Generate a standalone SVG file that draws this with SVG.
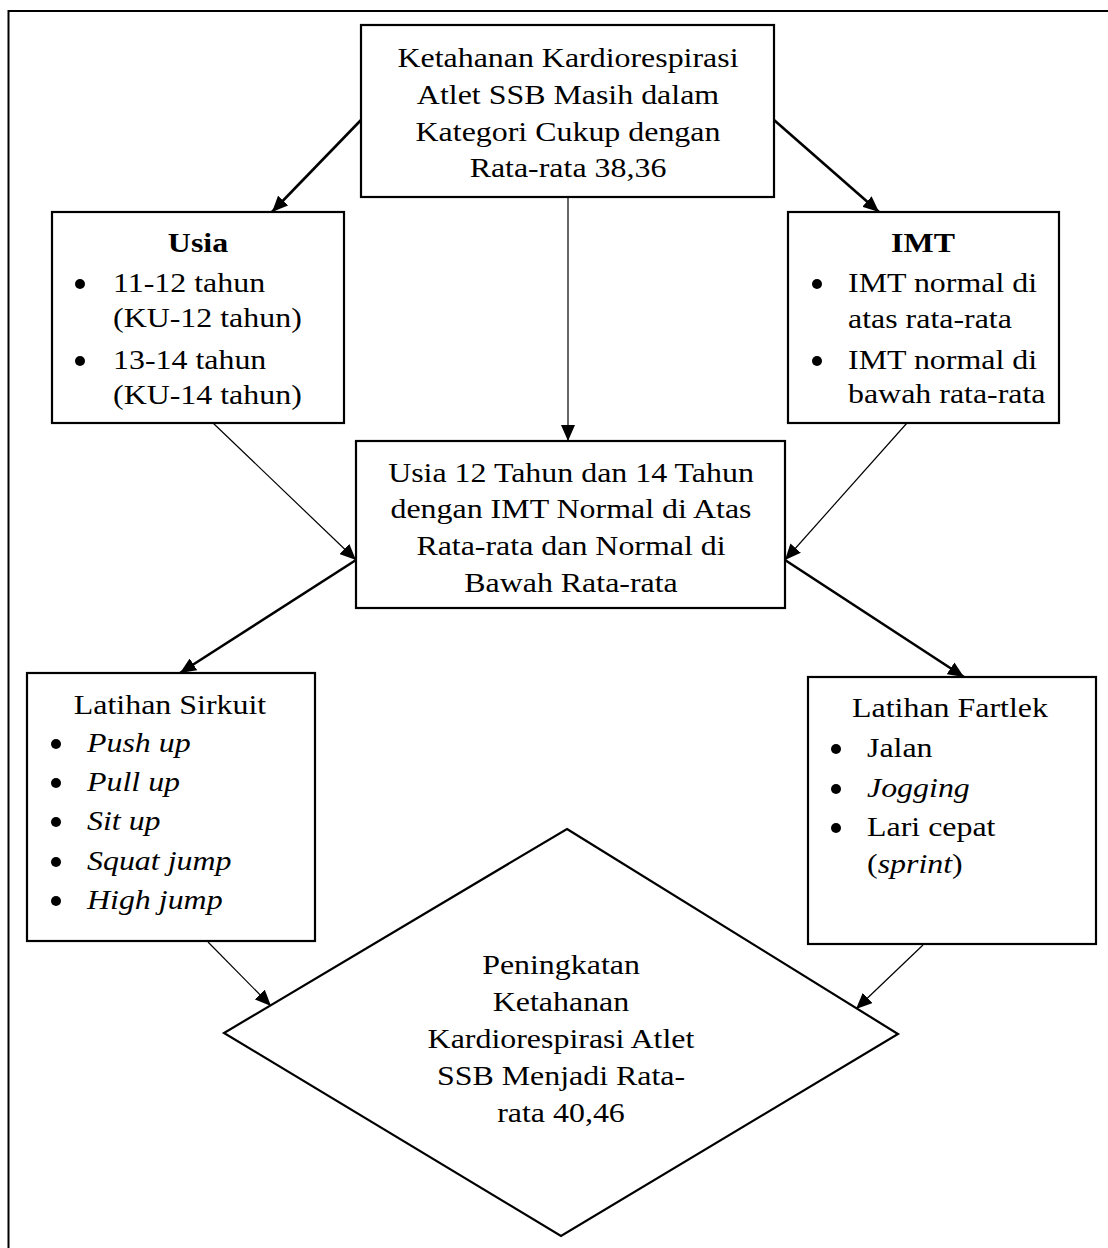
<svg xmlns="http://www.w3.org/2000/svg" width="1108" height="1248" viewBox="0 0 1108 1248">
<style>
.t{font-family:"Liberation Serif","Times New Roman",serif;font-size:28px;fill:#000}
.c{text-anchor:middle}
.b{font-weight:bold}
.i{font-style:italic}
.box{fill:#fff;stroke:#000;stroke-width:2.2}
.thick{stroke:#000;stroke-width:2.6;fill:none}
.thin{stroke:#000;stroke-width:1.2;fill:none}
.dot{fill:#000}
</style>
<defs>
<marker id="ah" markerUnits="userSpaceOnUse" markerWidth="16" markerHeight="14" refX="16" refY="7" orient="auto">
<path d="M0,0 L16,7 L0,14 z" fill="#000"/>
</marker>
</defs>
<rect width="1108" height="1248" fill="#fff"/>
<rect x="8.5" y="11" width="1120" height="1260" fill="none" stroke="#000" stroke-width="2"/>

<g id="connectors">
<line class="thick" x1="361" y1="120" x2="272" y2="212" marker-end="url(#ah)"/>
<line class="thick" x1="774" y1="120" x2="879" y2="212" marker-end="url(#ah)"/>
<line class="thin" x1="568" y1="198" x2="568" y2="441" marker-end="url(#ah)"/>
<line class="thin" x1="213" y1="423" x2="356" y2="560" marker-end="url(#ah)"/>
<line class="thin" x1="907" y1="423" x2="785" y2="560" marker-end="url(#ah)"/>
<line class="thick" x1="356" y1="560" x2="180" y2="673" marker-end="url(#ah)"/>
<line class="thick" x1="785" y1="560" x2="964" y2="677" marker-end="url(#ah)"/>
<line class="thin" x1="208" y1="942" x2="271" y2="1006" marker-end="url(#ah)"/>
<line class="thin" x1="923" y1="945" x2="856" y2="1009" marker-end="url(#ah)"/>
</g>

<g id="node-top">
<rect class="box" x="361" y="25" width="413" height="172"/>
<text class="t c" transform="translate(568,67) scale(1.14,1)">Ketahanan Kardiorespirasi</text>
<text class="t c" transform="translate(568,104) scale(1.14,1)">Atlet SSB Masih dalam</text>
<text class="t c" transform="translate(568,141) scale(1.14,1)">Kategori Cukup dengan</text>
<text class="t c" transform="translate(568,177) scale(1.14,1)">Rata-rata 38,36</text>
</g>

<g id="node-usia">
<rect class="box" x="52" y="212" width="292" height="211"/>
<text class="t c b" transform="translate(198,252) scale(1.14,1)">Usia</text>
<circle class="dot" cx="80" cy="284" r="5"/>
<text class="t" transform="translate(113,292) scale(1.14,1)">11-12 tahun</text>
<text class="t" transform="translate(113,327) scale(1.14,1)">(KU-12 tahun)</text>
<circle class="dot" cx="80" cy="361" r="5"/>
<text class="t" transform="translate(113,369) scale(1.14,1)">13-14 tahun</text>
<text class="t" transform="translate(113,404) scale(1.14,1)">(KU-14 tahun)</text>
</g>

<g id="node-imt">
<rect class="box" x="788" y="212" width="271" height="211"/>
<text class="t c b" transform="translate(923,252) scale(1.14,1)">IMT</text>
<circle class="dot" cx="817" cy="284" r="5"/>
<text class="t" transform="translate(848,292) scale(1.14,1)">IMT normal di</text>
<text class="t" transform="translate(848,328) scale(1.14,1)">atas rata-rata</text>
<circle class="dot" cx="817" cy="361" r="5"/>
<text class="t" transform="translate(848,369) scale(1.14,1)">IMT normal di</text>
<text class="t" transform="translate(848,403) scale(1.14,1)">bawah rata-rata</text>
</g>

<g id="node-middle">
<rect class="box" x="356" y="441" width="429" height="167"/>
<text class="t c" transform="translate(571,482) scale(1.14,1)">Usia 12 Tahun dan 14 Tahun</text>
<text class="t c" transform="translate(571,518) scale(1.14,1)">dengan IMT Normal di Atas</text>
<text class="t c" transform="translate(571,555) scale(1.14,1)">Rata-rata dan Normal di</text>
<text class="t c" transform="translate(571,592) scale(1.14,1)">Bawah Rata-rata</text>
</g>

<g id="node-sirkuit">
<rect class="box" x="27" y="673" width="288" height="268"/>
<text class="t c" transform="translate(170,714) scale(1.14,1)">Latihan Sirkuit</text>
<circle class="dot" cx="56" cy="744" r="5"/>
<text class="t i" transform="translate(87,752) scale(1.14,1)">Push up</text>
<circle class="dot" cx="56" cy="783" r="5"/>
<text class="t i" transform="translate(87,791) scale(1.14,1)">Pull up</text>
<circle class="dot" cx="56" cy="822" r="5"/>
<text class="t i" transform="translate(87,830) scale(1.14,1)">Sit up</text>
<circle class="dot" cx="56" cy="862" r="5"/>
<text class="t i" transform="translate(87,870) scale(1.14,1)">Squat jump</text>
<circle class="dot" cx="56" cy="901" r="5"/>
<text class="t i" transform="translate(87,909) scale(1.14,1)">High jump</text>
</g>

<g id="node-fartlek">
<rect class="box" x="808" y="677" width="288" height="267"/>
<text class="t c" transform="translate(950,717) scale(1.14,1)">Latihan Fartlek</text>
<circle class="dot" cx="836" cy="749" r="5"/>
<text class="t" transform="translate(867,757) scale(1.14,1)">Jalan</text>
<circle class="dot" cx="836" cy="789" r="5"/>
<text class="t i" transform="translate(867,797) scale(1.14,1)">Jogging</text>
<circle class="dot" cx="836" cy="828" r="5"/>
<text class="t" transform="translate(867,836) scale(1.14,1)">Lari cepat</text>
<text class="t" transform="translate(867,873) scale(1.14,1)">(<tspan class="i">sprint</tspan>)</text>
</g>

<g id="node-result">
<polygon class="box" points="567,829 898,1034 561,1236 224,1033"/>
<text class="t c" transform="translate(561,974) scale(1.14,1)">Peningkatan</text>
<text class="t c" transform="translate(561,1011) scale(1.14,1)">Ketahanan</text>
<text class="t c" transform="translate(561,1048) scale(1.14,1)">Kardiorespirasi Atlet</text>
<text class="t c" transform="translate(561,1085) scale(1.14,1)">SSB Menjadi Rata-</text>
<text class="t c" transform="translate(561,1122) scale(1.14,1)">rata 40,46</text>
</g>
</svg>
